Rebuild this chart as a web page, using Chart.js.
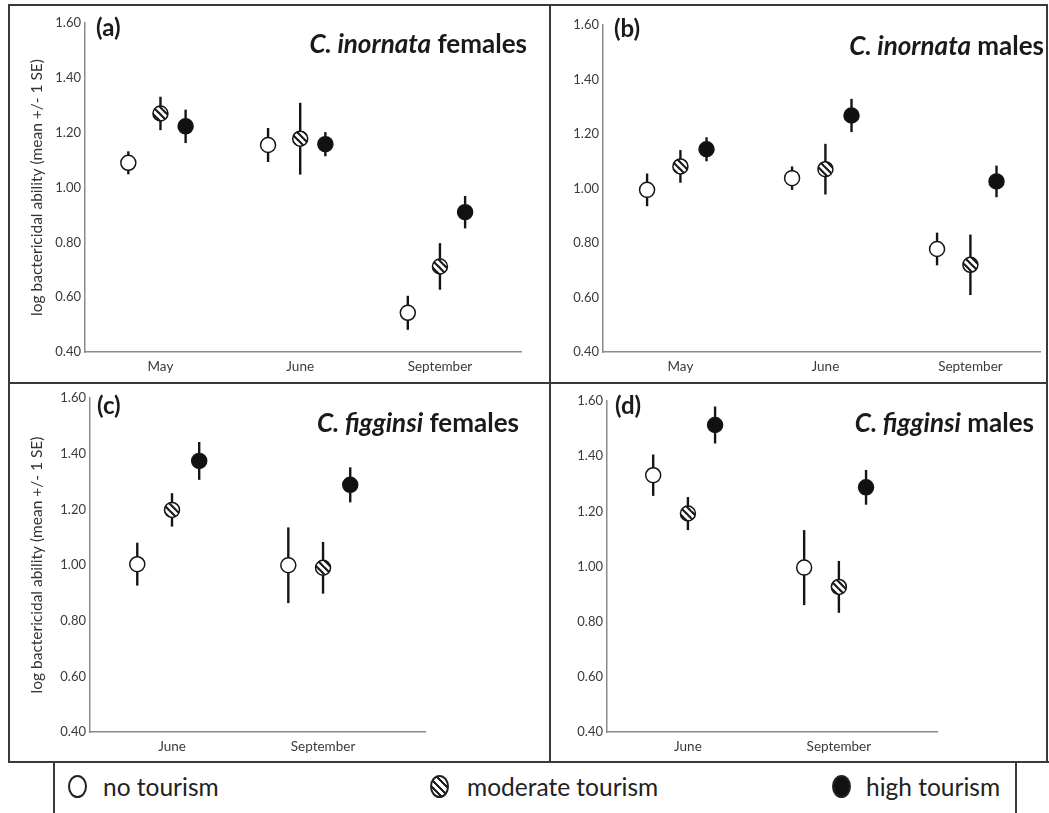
<!DOCTYPE html>
<html>
<head>
<meta charset="utf-8">
<script src="https://cdn.jsdelivr.net/npm/chart.js@4.4.1/dist/chart.umd.min.js"></script>
<style>
  html, body { margin:0; padding:0; background:#fff; }
  body { width:1049px; height:813px; position:relative; overflow:hidden; font-family: Lato, "Open Sans", sans-serif; }
  .ln { position:absolute; background:#3a3a3a; }
  canvas { position:absolute; }
  .letter { position:absolute; font-weight:700; font-size:24px; line-height:26px; color:#1a1a1a; }
  .ttl { position:absolute; font-weight:700; font-size:26px; line-height:30px; color:#1a1a1a; white-space:nowrap; text-align:right; }
  .leg { position:absolute; font-size:24.5px; line-height:28px; color:#222; white-space:nowrap; }
  .mk { position:absolute; width:19px; height:23px; border:2px solid #222; border-radius:50%; box-sizing:border-box; }
</style>
</head>
<body>
<!-- frame lines -->
<div class="ln" style="left:8px; top:4px; width:1040px; height:2px;"></div>
<div class="ln" style="left:8px; top:4px; width:2px; height:759px;"></div>
<div class="ln" style="left:1046px; top:4px; width:2px; height:759px;"></div>
<div class="ln" style="left:549px; top:4px; width:2px; height:759px;"></div>
<div class="ln" style="left:8px; top:382px; width:1040px; height:2px;"></div>
<div class="ln" style="left:8px; top:761px; width:1041px; height:2px;"></div>
<div class="ln" style="left:53px; top:761px; width:2px; height:52px;"></div>
<div class="ln" style="left:1015px; top:761px; width:2px; height:52px;"></div>

<canvas id="cA" width="520" height="374" style="left:10px; top:6px;"></canvas>
<canvas id="cB" width="497" height="374" style="left:552px; top:6px;"></canvas>
<canvas id="cC" width="530" height="374" style="left:10px; top:386px;"></canvas>
<canvas id="cD" width="497" height="374" style="left:552px; top:386px;"></canvas>

<div class="letter" style="left:96px; top:14px;">(a)</div>
<div class="letter" style="left:614px; top:15px;">(b)</div>
<div class="letter" style="left:97px; top:392px;">(c)</div>
<div class="letter" style="left:615px; top:392px;">(d)</div>

<div class="ttl" style="right:522px; top:28px;"><i>C. inornata</i> females</div>
<div class="ttl" style="right:5px; top:30px;"><i>C. inornata</i> males</div>
<div class="ttl" style="right:530px; top:407px;"><i>C. figginsi</i> females</div>
<div class="ttl" style="right:15px; top:407px;"><i>C. figginsi</i> males</div>

<!-- legend -->
<div class="mk" style="left:68px; top:775px; background:#fff;"></div>
<div class="leg" style="left:103px; top:773px;">no tourism</div>
<div class="mk" style="left:430px; top:775px; background:repeating-linear-gradient(45deg,#222 0 2.2px,#fff 2.2px 5.2px);"></div>
<div class="leg" style="left:467px; top:773px;">moderate tourism</div>
<div class="mk" style="left:832px; top:775px; background:#111;"></div>
<div class="leg" style="left:866px; top:773px;">high tourism</div>

<script>
// ---------------- DATA ----------------
const tourismLevels = ['no tourism', 'moderate tourism', 'high tourism'];
const monthsInornata = ['May', 'June', 'September'];
const monthsFigginsi = ['June', 'September'];
const yTickValues = [0.40, 0.60, 0.80, 1.00, 1.20, 1.40, 1.60];
const yAxisTitle = 'log bactericidal ability (mean +/- 1 SE)';

// rows = months, columns = [no, moderate, high]
const meanA = [[1.090, 1.270, 1.223], [1.155, 1.178, 1.158], [0.543, 0.712, 0.910]];
const seA   = [[0.042, 0.061, 0.061], [0.062, 0.131, 0.044], [0.062, 0.085, 0.059]];

const meanB = [[0.995, 1.081, 1.144], [1.038, 1.071, 1.268], [0.778, 0.720, 1.026]];
const seB   = [[0.060, 0.060, 0.044], [0.043, 0.093, 0.061], [0.060, 0.111, 0.058]];

const meanC = [[1.003, 1.198, 1.374], [0.999, 0.990, 1.288]];
const seC   = [[0.077, 0.060, 0.068], [0.136, 0.093, 0.063]];

const meanD = [[1.331, 1.192, 1.513], [0.996, 0.926, 1.287]];
const seD   = [[0.075, 0.060, 0.067], [0.136, 0.094, 0.063]];

// ---------------- STYLE ----------------
const levelOffsets = [-0.23, 0, 0.18];
const FONT = 'Lato';

function hatchPattern(ctx) {
  const c = document.createElement('canvas');
  c.width = 7; c.height = 7;
  const g = c.getContext('2d');
  g.fillStyle = '#fff'; g.fillRect(0, 0, 7, 7);
  g.strokeStyle = '#1a1a1a'; g.lineWidth = 2.2;
  for (const d of [-7, 0, 7]) {
    g.beginPath(); g.moveTo(d - 1, -1); g.lineTo(d + 8, 8); g.stroke();
  }
  return ctx.createPattern(c, 'repeat');
}

const errorBars = {
  id: 'errorBars',
  beforeDatasetsDraw(chart) {
    const { ctx, scales: { x, y } } = chart;
    ctx.save();
    ctx.strokeStyle = '#151515';
    ctx.lineWidth = 2.4;
    chart.data.datasets.forEach(ds => {
      ds.data.forEach(p => {
        const px = x.getPixelForValue(p.x);
        ctx.beginPath();
        ctx.moveTo(px, y.getPixelForValue(p.y + p.se));
        ctx.lineTo(px, y.getPixelForValue(p.y - p.se));
        ctx.stroke();
      });
    });
    ctx.restore();
  }
};

function makePanel(id, months, means, ses, cfg) {
  const canvas = document.getElementById(id);
  const ctx = canvas.getContext('2d');
  const fills = ['#ffffff', hatchPattern(ctx), '#111111'];
  const datasets = tourismLevels.map((lvl, li) => ({
    label: lvl,
    data: months.map((m, mi) => ({ x: mi + 1 + levelOffsets[li], y: means[mi][li], se: ses[mi][li] })),
    pointRadius: 7.5,
    pointHoverRadius: 7.5,
    pointBackgroundColor: fills[li],
    pointBorderColor: '#151515',
    pointBorderWidth: 1.5,
    showLine: false,
    clip: false
  }));
  return new Chart(canvas, {
    type: 'scatter',
    data: { datasets },
    plugins: [errorBars],
    options: {
      responsive: false,
      animation: false,
      events: [],
      layout: { padding: { top: cfg.padTop, right: cfg.padRight, left: 0, bottom: 0 } },
      plugins: { legend: { display: false }, tooltip: { enabled: false } },
      scales: {
        x: {
          type: 'linear',
          min: cfg.xMin, max: cfg.xMax,
          grid: { display: false, drawTicks: false },
          border: { display: true, color: '#8a8a8a', width: 1.5 },
          afterBuildTicks: s => { s.ticks = months.map((m, i) => ({ value: i + 1 })); },
          afterFit: s => { s.height = 28; },
          ticks: {
            padding: 7,
            color: '#3a3a3a',
            font: { family: FONT, size: 13.5 },
            maxRotation: 0,
            callback: v => months[Math.round(v) - 1]
          }
        },
        y: {
          type: 'linear',
          min: 0.4, max: 1.6,
          grid: { display: false, drawTicks: false },
          border: { display: true, color: '#8a8a8a', width: 1.5 },
          afterBuildTicks: s => { s.ticks = yTickValues.map(v => ({ value: v })); },
          afterFit: s => { s.width = cfg.yWidth; },
          ticks: {
            padding: 4,
            color: '#3a3a3a',
            font: { family: FONT, size: 13 },
            callback: v => Number(v).toFixed(2)
          },
          title: {
            display: cfg.showTitle,
            text: yAxisTitle,
            color: '#333',
            font: { family: FONT, size: 15.5 },
            padding: { top: 18, bottom: 0 }
          }
        }
      }
    }
  });
}

makePanel('cA', monthsInornata, meanA, seA, { yWidth: 75, padTop: 17, padRight: 6, xMin: 0.46, xMax: 3.58, showTitle: true });
makePanel('cB', monthsInornata, meanB, seB, { yWidth: 51, padTop: 19, padRight: 0, xMin: 0.466, xMax: 3.48, showTitle: false });
makePanel('cC', monthsFigginsi, meanC, seC, { yWidth: 80, padTop: 12, padRight: 115, xMin: 0.457, xMax: 2.675, showTitle: true });
makePanel('cD', monthsFigginsi, meanD, seD, { yWidth: 55, padTop: 15, padRight: 112, xMin: 0.464, xMax: 2.65, showTitle: false });
</script>
</body>
</html>
